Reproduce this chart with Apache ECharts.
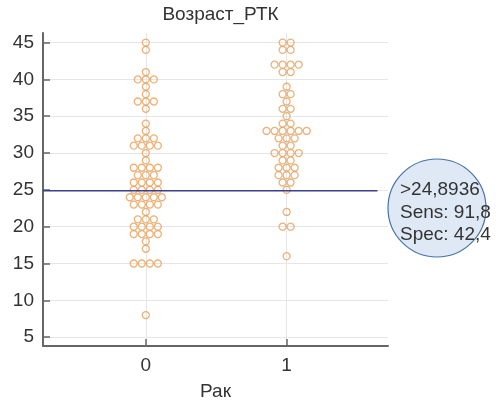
<!DOCTYPE html>
<html><head><meta charset="utf-8">
<script src="https://cdn.jsdelivr.net/npm/echarts@6/dist/echarts.min.js"></script>
<style>html,body{margin:0;padding:0;background:#fff}#c{width:496px;height:406px}</style>
</head><body><div id="c"></div>
<script>
const chartTitle = 'Возраст_РТК';
const xName = 'Рак';
const categories = [0, 1];
const yTicks = [5, 10, 15, 20, 25, 30, 35, 40, 45];
const ages0 = [45,44,41,40,40,40,39,38,37,37,37,36,34,33,32,32,32,31,31,31,31,30,29,28,28,28,28,27,27,27,26,26,26,26,25,25,25,25,24,24,24,24,24,23,23,23,23,22,21,21,21,20,20,20,20,19,19,19,19,18,17,15,15,15,15,8];
const ages1 = [45,45,44,44,42,42,42,42,41,41,39,38,38,37,36,36,35,34,34,33,33,33,33,33,33,32,32,32,31,31,30,30,30,30,29,29,28,28,28,27,27,27,26,26,25,22,20,20,16];
const cutoff = 24.8936;
const annotation = ['>24,8936', 'Sens: 91,8', 'Spec: 42,4'];

const FONT = '"Liberation Sans", Arial, sans-serif';
const X_MIN = -0.73, X_MAX = 1.72;
const SPREAD = 0.057;
const DOT = '#e99f58';

function swarm(ages, cx) {
  const counts = {}, seen = {};
  ages.forEach(a => counts[a] = (counts[a] || 0) + 1);
  return ages.map(a => {
    const n = counts[a];
    const i = seen[a] = (seen[a] === undefined ? 0 : seen[a] + 1);
    return [cx + (i - (n - 1) / 2) * SPREAD, a];
  });
}

const chart = echarts.init(document.getElementById('c'));
const txt = {fontFamily: FONT, fontSize: 19, color: '#333'};
const dotStyle = {color: 'rgba(255,255,255,0)', borderColor: DOT, borderWidth: 1.3};
chart.setOption({
  animation: false,
  title: {text: chartTitle, left: 215.5, textAlign: 'center', top: 0,
    textStyle: {fontFamily: FONT, fontSize: 19, fontWeight: 'normal', color: '#333'}},
  grid: {left: 43, right: 108, top: 33, bottom: 58},
  xAxis: {
    type: 'value', min: X_MIN, max: X_MAX,
    name: xName, nameLocation: 'middle', nameGap: 36, nameTextStyle: txt,
    axisLine: {show: true, onZero: false, lineStyle: {color: '#666', width: 2}},
    axisTick: {show: true, inside: true, length: 7, customValues: categories, lineStyle: {color: '#666', width: 1.5}},
    axisLabel: {customValues: categories, margin: 10, ...txt},
    splitLine: {show: true, lineStyle: {color: '#e6e6e6', width: 1}}
  },
  yAxis: {
    type: 'value', min: 3.8, max: 46.3,
    axisLine: {show: true, onZero: false, lineStyle: {color: '#666', width: 2}},
    axisTick: {show: true, inside: true, length: 7, customValues: yTicks, lineStyle: {color: '#666', width: 1.5}},
    axisLabel: {customValues: yTicks, margin: 9, ...txt},
    splitLine: {show: true, lineStyle: {color: '#e6e6e6', width: 1}}
  },
  series: [
    {type: 'scatter', data: swarm(ages0, categories[0]), symbol: 'circle', symbolSize: 7, itemStyle: dotStyle, z: 3},
    {type: 'scatter', data: swarm(ages1, categories[1]), symbol: 'circle', symbolSize: 7, itemStyle: dotStyle, z: 3},
    {type: 'line', data: [[X_MIN, cutoff], [1.645, cutoff]], symbol: 'none', silent: true,
      lineStyle: {color: '#3b3f8e', width: 1.5}, z: 4}
  ],
  graphic: [
    {type: 'circle', shape: {cx: 437, cy: 208, r: 49}, style: {fill: '#dfe9f5', stroke: '#4573a8', lineWidth: 1.2}, z: 100},
    ...annotation.map((t, k) => ({type: 'text', x: 400, y: 190 + k * 22.5, z: 101,
      style: {text: t, font: '19px ' + FONT, fill: '#333', verticalAlign: 'middle', align: 'left'}}))
  ]
});
</script></body></html>
